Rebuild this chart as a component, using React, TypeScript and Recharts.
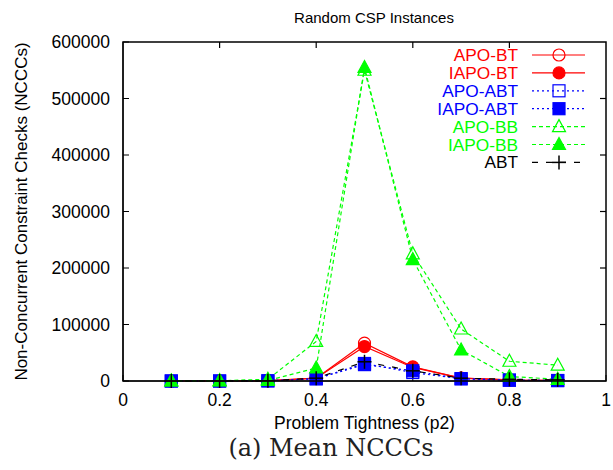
import React from 'react';
import { LineChart, Line, XAxis, YAxis, Label } from 'recharts';

const tightness = [0.1, 0.2, 0.3, 0.4, 0.5, 0.6, 0.7, 0.8, 0.9];
const apoBT = [0, 0, 500, 5000, 67000, 25000, 5000, 2000, 1000];
const iapoBT = [0, 0, 400, 5000, 61000, 24000, 5000, 2000, 1000];
const apoABT = [0, 0, 300, 4000, 31000, 15000, 4000, 1500, 800];
const iapoABT = [0, 0, 300, 4000, 29000, 18000, 4000, 1500, 800];
const apoBB = [0, 500, 3000, 70000, 550000, 225000, 92000, 35000, 28000];
const iapoBB = [0, 300, 1000, 23000, 555000, 215000, 55000, 8000, 3000];
const abt = [0, 0, 400, 5000, 34000, 18000, 5000, 3000, 2000];

const xTicks = [0, 0.2, 0.4, 0.6, 0.8, 1];
const yTicks = [0, 100000, 200000, 300000, 400000, 500000, 600000];
const xMax = 1;
const yMax = 600000;

const rows = tightness.map((p, i) => ({
  p,
  apoBT: apoBT[i],
  iapoBT: iapoBT[i],
  apoABT: apoABT[i],
  iapoABT: iapoABT[i],
  apoBB: apoBB[i],
  iapoBB: iapoBB[i],
  abt: abt[i],
}));

type MarkerKind = 'circle' | 'square' | 'triangle' | 'plus';

const series = [
  { key: 'apoBT', name: 'APO-BT', color: '#ff0000', dash: undefined, marker: 'circle', filled: false },
  { key: 'iapoBT', name: 'IAPO-BT', color: '#ff0000', dash: undefined, marker: 'circle', filled: true },
  { key: 'apoABT', name: 'APO-ABT', color: '#0000ff', dash: '2 3', marker: 'square', filled: false },
  { key: 'iapoABT', name: 'IAPO-ABT', color: '#0000ff', dash: '2 3', marker: 'square', filled: true },
  { key: 'apoBB', name: 'APO-BB', color: '#00ff00', dash: '4 3', marker: 'triangle', filled: false },
  { key: 'iapoBB', name: 'IAPO-BB', color: '#00ff00', dash: '4 3', marker: 'triangle', filled: true },
  { key: 'abt', name: 'ABT', color: '#000000', dash: '6 8', marker: 'plus', filled: false },
] as const;

const font = '"Liberation Sans", Arial, sans-serif';

// plot box, follows from the chart margins and axis sizes below
const W = 613;
const H = 470;
const margin = { top: 42, right: 7, bottom: 29, left: 0 };
const yAxisW = 123;
const xAxisH = 60;
const box = {
  left: margin.left + yAxisW,
  right: W - margin.right,
  top: margin.top,
  bottom: H - margin.bottom - xAxisH,
};

function Marker({ cx, cy, kind, filled, color }: { cx: number; cy: number; kind: MarkerKind; filled: boolean; color: string }) {
  const fill = filled ? color : 'none';
  if (kind === 'circle') return <circle cx={cx} cy={cy} r={6} fill={fill} stroke={color} strokeWidth={1.2} />;
  if (kind === 'square') return <rect x={cx - 6} y={cy - 6} width={12} height={12} fill={fill} stroke={color} strokeWidth={1.2} />;
  if (kind === 'triangle')
    return (
      <polygon
        points={`${cx},${cy - 7} ${cx - 6.5},${cy + 5} ${cx + 6.5},${cy + 5}`}
        fill={fill}
        stroke={color}
        strokeWidth={1.2}
      />
    );
  return (
    <g stroke={color} strokeWidth={1.5}>
      <line x1={cx - 7} y1={cy} x2={cx + 7} y2={cy} />
      <line x1={cx} y1={cy - 7} x2={cx} y2={cy + 7} />
    </g>
  );
}

// title, frame with mirrored ticks and key, gnuplot style
function Overlay() {
  const bw = box.right - box.left;
  const bh = box.bottom - box.top;
  return (
    <svg width={W} height={H} style={{ position: 'absolute', left: 0, top: 0, pointerEvents: 'none' }}>
      <text x={374} y={17} textAnchor="middle" dominantBaseline="central" fontSize={15} fontFamily={font} fill="#000">
        Random CSP Instances
      </text>
      <rect
        x={box.left}
        y={box.top}
        width={bw}
        height={bh}
        fill="none"
        stroke="#000000"
        strokeWidth={1.5}
      />
      {xTicks.slice(1, -1).map((t) => {
        const x = box.left + (t / xMax) * bw;
        return <line key={`tx${t}`} x1={x} y1={box.top} x2={x} y2={box.top + 6} stroke="#000000" strokeWidth={1.2} />;
      })}
      {yTicks.slice(1, -1).map((t) => {
        const y = box.bottom - (t / yMax) * bh;
        return <line key={`ty${t}`} x1={box.right} y1={y} x2={box.right - 6} y2={y} stroke="#000000" strokeWidth={1.2} />;
      })}
      {series.map((s, i) => {
        const y = 55 + i * 17.9;
        return (
          <g key={s.key}>
            <text x={518} y={y} textAnchor="end" dominantBaseline="central" fontSize={17.3} fontFamily={font} fill={s.color}>
              {s.name}
            </text>
            <line x1={532} y1={y} x2={585} y2={y} stroke={s.color} strokeWidth={1.2} strokeDasharray={s.dash} />
            <Marker cx={559} cy={y} kind={s.marker} filled={s.filled} color={s.color} />
          </g>
        );
      })}
    </svg>
  );
}

export default function App() {
  return (
    <div style={{ position: 'absolute', left: 0, top: 0, width: W, height: H, background: '#fff' }}>
      <LineChart width={W} height={H} data={rows} margin={margin}>
        <XAxis
          dataKey="p"
          type="number"
          domain={[0, xMax]}
          ticks={xTicks}
          tickFormatter={(v: number) => String(v)}
          tickSize={-6}
          tickMargin={19}
          height={xAxisH}
          stroke="#000"
          tick={{ fill: '#000', fontSize: 17.5, fontFamily: font }}
        >
          <Label value="Problem Tightness (p2)" position="bottom" offset={-24} fontSize={17.5} fontFamily={font} fill="#000" />
        </XAxis>
        <YAxis
          type="number"
          domain={[0, yMax]}
          ticks={yTicks}
          tickSize={-6}
          tickMargin={19}
          width={yAxisW}
          stroke="#000"
          tick={{ fill: '#000', fontSize: 17.5, fontFamily: font }}
        >
          <Label
            value="Non-Concurrent Constraint Checks (NCCCs)"
            angle={-90}
            position="insideLeft"
            offset={21}
            fontSize={17}
            fontFamily={font}
            fill="#000"
            style={{ textAnchor: 'middle' }}
          />
        </YAxis>
        {series.map((s) => (
          <Line
            key={s.key}
            dataKey={s.key}
            name={s.name}
            type="linear"
            stroke={s.color}
            strokeWidth={1.2}
            strokeDasharray={s.dash}
            isAnimationActive={false}
            dot={(props: any) => (
              <Marker key={`${s.key}-${props.index}`} cx={props.cx} cy={props.cy} kind={s.marker} filled={s.filled} color={s.color} />
            )}
            activeDot={false}
          />
        ))}
      </LineChart>
      <Overlay />
      <div
        style={{
          position: 'absolute',
          left: 0,
          width: 662,
          top: 434,
          textAlign: 'center',
          fontFamily: '"DejaVu Serif", "Liberation Serif", serif',
          fontSize: 24,
          lineHeight: '28px',
          color: '#222',
        }}
      >
        (a) Mean NCCCs
      </div>
    </div>
  );
}
